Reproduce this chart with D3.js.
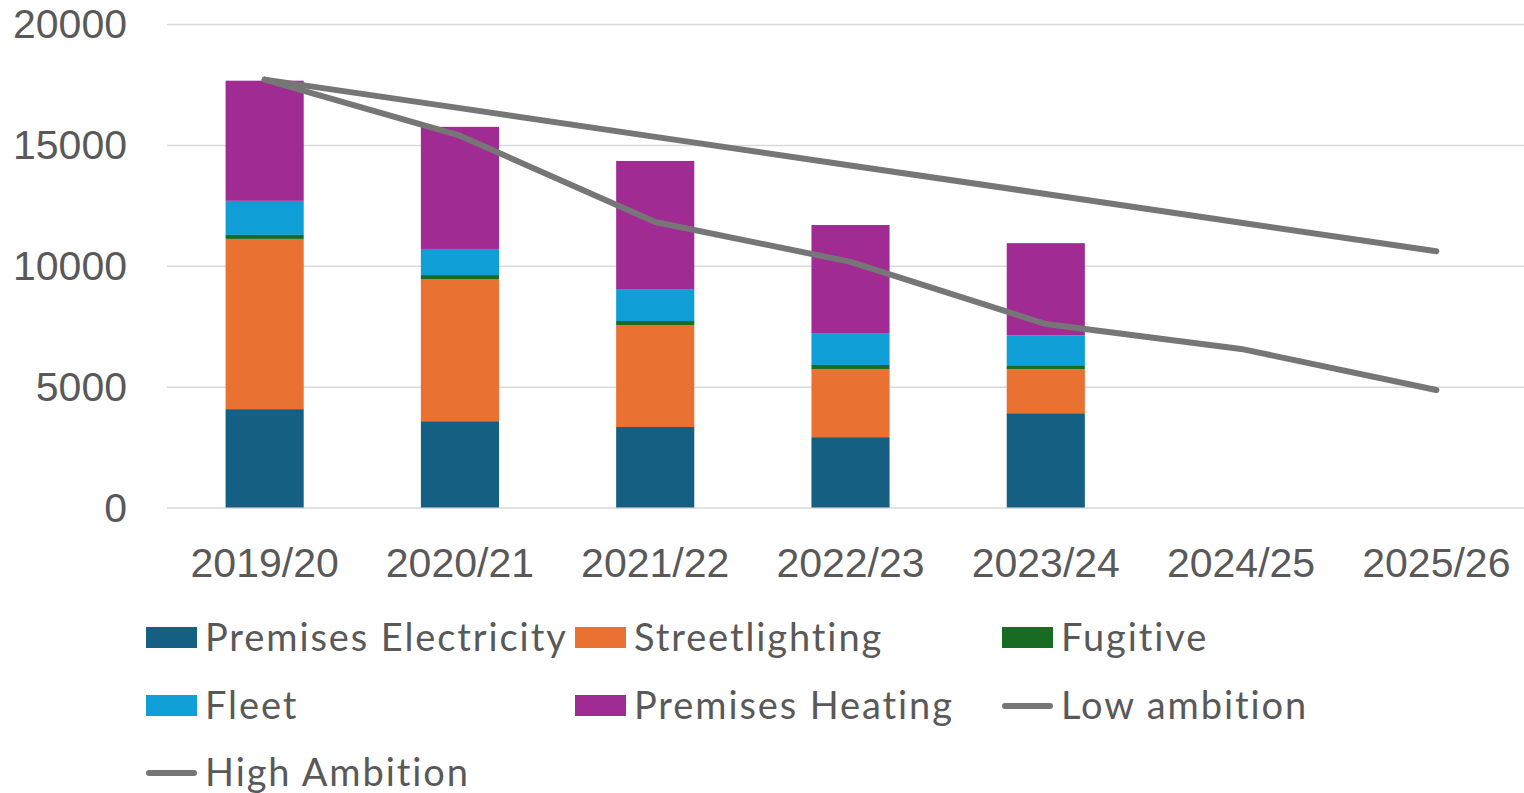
<!DOCTYPE html>
<html>
<head>
<meta charset="utf-8">
<script src="https://cdn.jsdelivr.net/npm/d3@7"></script>
<style>
  body { margin: 0; background: #fff; }
  svg { display: block; }
  .tick text { font-family: "Liberation Sans", Arial, sans-serif; fill: #595959; }
  .legend text { font-family: Lato, "Noto Sans", sans-serif; fill: #595959; letter-spacing: 1.9px; }
</style>
</head>
<body>
<div id="chart"></div>
<script>
const years = ["2019/20", "2020/21", "2021/22", "2022/23", "2023/24", "2024/25", "2025/26"]
const barYears = ["2019/20", "2020/21", "2021/22", "2022/23", "2023/24"]
const premisesElectricity = [4070, 3570, 3330, 2910, 3900]
const streetlighting = [7040, 5880, 4220, 2820, 1820]
const fugitive = [165, 165, 165, 165, 165]
const fleet = [1410, 1080, 1320, 1320, 1240]
const premisesHeating = [4970, 5050, 5300, 4470, 3810]
const lowAmbition = [17700, 16520, 15330, 14150, 12970, 11780, 10600]
const highAmbition = [17700, 15380, 11810, 10160, 7590, 6560, 4860]
const yTicks = [0, 5000, 10000, 15000, 20000]

const barSeries = [
    { key: "Premises Electricity", values: premisesElectricity, color: "#156082" },
    { key: "Streetlighting", values: streetlighting, color: "#E97132" },
    { key: "Fugitive", values: fugitive, color: "#196B24" },
    { key: "Fleet", values: fleet, color: "#0F9ED5" },
    { key: "Premises Heating", values: premisesHeating, color: "#A02B93" }
]
const lineSeries = [
    { key: "Low ambition", values: lowAmbition, color: "#767676" },
    { key: "High Ambition", values: highAmbition, color: "#767676" }
]

const width = 1524
const height = 793
const plot = { left: 167, right: 1534, top: 24, bottom: 507.5 }

const svg = d3.select("#chart")
    .append("svg")
    .attr("width", width)
    .attr("height", height)

const xScale = d3.scaleBand()
    .domain(years)
    .range([plot.left, plot.right])
    .paddingInner(0.6)
    .paddingOuter(0.3)

const yScale = d3.scaleLinear()
    .domain([0, 20000])
    .range([plot.bottom, plot.top])

// gridlines + y labels
const yAxis = d3.axisLeft(yScale)
    .tickValues(yTicks)
    .tickSize(-(plot.right - plot.left))
    .tickPadding(40)
    .tickFormat(d3.format("d"))

svg.append("g")
    .attr("transform", `translate(${plot.left},0)`)
    .call(yAxis)
    .call(g => g.select(".domain").remove())
    .call(g => g.selectAll(".tick line").attr("stroke", "#d9d9d9").attr("stroke-width", 1.5))
    .call(g => g.selectAll(".tick text").attr("font-size", 41).attr("dy", "0.33em"))

const xAxis = d3.axisBottom(xScale).tickSize(0).tickPadding(0)

svg.append("g")
    .attr("transform", `translate(0,${plot.bottom})`)
    .call(xAxis)
    .call(g => g.select(".domain").remove())
    .call(g => g.selectAll(".tick text").attr("font-size", 41).attr("dy", "1.69em"))

// stacked bars
const table = barYears.map((year, i) => {
    const row = { year }
    barSeries.forEach(s => { row[s.key] = s.values[i] })
    return row
})
const stacked = d3.stack().keys(barSeries.map(s => s.key))(table)

svg.append("g")
    .selectAll("g")
    .data(stacked)
    .join("g")
    .attr("fill", (d, i) => barSeries[i].color)
    .selectAll("rect")
    .data(d => d)
    .join("rect")
    .attr("x", d => xScale(d.data.year))
    .attr("width", xScale.bandwidth())
    .attr("y", d => yScale(d[1]))
    .attr("height", d => yScale(d[0]) - yScale(d[1]))

// ambition lines
const line = d3.line()
    .x((d, i) => xScale(years[i]) + xScale.bandwidth() / 2)
    .y(d => yScale(d))

svg.append("g")
    .selectAll("path")
    .data(lineSeries)
    .join("path")
    .attr("d", d => line(d.values))
    .attr("fill", "none")
    .attr("stroke", d => d.color)
    .attr("stroke-width", 6)
    .attr("stroke-linecap", "round")
    .attr("stroke-linejoin", "round")

// legend
const legendItems = [...barSeries.map(s => ({ ...s, type: "rect" })), ...lineSeries.map(s => ({ ...s, type: "line" }))]
const legendCols = [146, 575, 1002]
const legendRows = [651, 719, 786]

const legend = svg.append("g").attr("class", "legend")
const item = legend.selectAll("g")
    .data(legendItems)
    .join("g")
    .attr("transform", (d, i) => `translate(${legendCols[i % 3]},${legendRows[Math.floor(i / 3)]})`)

item.filter(d => d.type === "rect")
    .append("rect")
    .attr("x", 0)
    .attr("y", -24)
    .attr("width", 51)
    .attr("height", 21)
    .attr("fill", d => d.color)

item.filter(d => d.type === "line")
    .append("line")
    .attr("x1", 3).attr("x2", 48)
    .attr("y1", -13).attr("y2", -13)
    .attr("stroke", d => d.color)
    .attr("stroke-width", 6)
    .attr("stroke-linecap", "round")

item.append("text")
    .attr("x", 59)
    .attr("font-size", 38)
    .text(d => d.key)
</script>
</body>
</html>
